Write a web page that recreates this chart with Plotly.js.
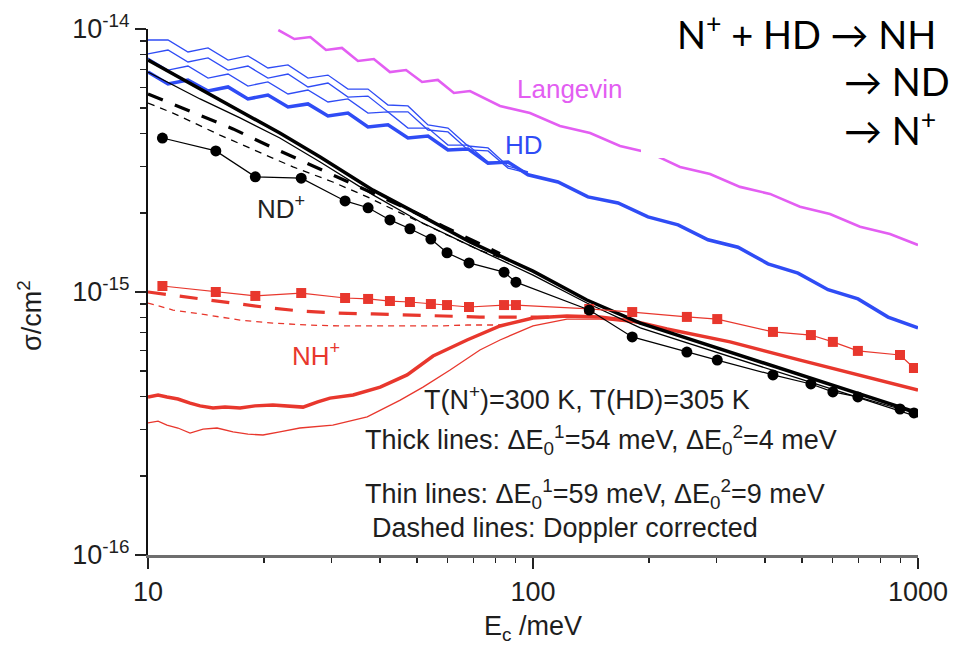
<!DOCTYPE html>
<html>
<head>
<meta charset="utf-8">
<script src="https://cdn.plot.ly/plotly-3.0.1.min.js"></script>
<style>html,body{margin:0;padding:0;background:#fff;}#chart{width:955px;height:645px;}</style>
</head>
<body>
<div id="chart"></div>
<script>
// ---------- data (collision energy in meV, cross section in cm^2) ----------
const langevinE = [21.8, 24.0, 26.4, 29.0, 31.9, 35.1, 38.6, 42.5, 46.8, 51.5, 56.6, 62.3, 68.6, 82.1, 98.2, 117.5, 140.7, 168.3, 201.4, 240.9, 288.3, 344.9, 412.7, 493.7, 590.7, 707.1, 845.8, 1000];
const langevinSigma = [9.91e-15, 9.16e-15, 9.32e-15, 8.32e-15, 8.47e-15, 7.56e-15, 7.69e-15, 6.86e-15, 6.98e-15, 6.29e-15, 6.40e-15, 5.71e-15, 5.81e-15, 5.10e-15, 4.79e-15, 4.28e-15, 4.02e-15, 3.59e-15, 3.38e-15, 2.99e-15, 2.81e-15, 2.51e-15, 2.36e-15, 2.11e-15, 1.98e-15, 1.77e-15, 1.66e-15, 1.51e-15];

const hdMainE = [10, 11.27, 12.70, 14.32, 16.14, 18.18, 20.49, 23.10, 26.03, 29.34, 33.07, 37.27, 42.01, 47.34, 53.37, 60.14, 67.79, 76.41, 86.12, 97.05, 116.1, 138.9, 166.3, 198.9, 238.1, 284.8, 340.8, 407.8, 487.9, 583.9, 698.6, 835.9, 1000];
const hdMainSigma = [6.86e-15, 6.18e-15, 6.40e-15, 5.81e-15, 6.02e-15, 5.42e-15, 5.61e-15, 5.05e-15, 5.19e-15, 4.67e-15, 4.79e-15, 4.24e-15, 4.32e-15, 3.85e-15, 3.92e-15, 3.47e-15, 3.50e-15, 3.09e-15, 3.12e-15, 2.79e-15, 2.62e-15, 2.30e-15, 2.18e-15, 1.93e-15, 1.80e-15, 1.58e-15, 1.48e-15, 1.28e-15, 1.18e-15, 1.02e-15, 9.41e-16, 8.03e-16, 7.30e-16];
const hdBundleE = [10, 11.27, 12.70, 14.32, 16.14, 18.18, 20.49, 23.10, 26.03, 29.34, 33.07, 37.27, 42.01, 47.34, 53.37, 60.14, 67.79, 76.41, 86.12, 97.05];
const hdThinA = [9.08e-15, 9.08e-15, 8.18e-15, 8.47e-15, 7.62e-15, 7.90e-15, 7.11e-15, 7.30e-15, 6.51e-15, 6.68e-15, 5.91e-15, 5.91e-15, 5.14e-15, 5.10e-15, 4.32e-15, 4.20e-15, 3.59e-15, 3.53e-15, 3.01e-15, 2.86e-15];
const hdThinB = [8.04e-15, 8.32e-15, 7.49e-15, 7.76e-15, 6.98e-15, 7.23e-15, 6.51e-15, 6.74e-15, 6.02e-15, 6.23e-15, 5.51e-15, 5.56e-15, 4.84e-15, 4.84e-15, 4.13e-15, 4.06e-15, 3.47e-15, 3.44e-15, 2.96e-15, 2.83e-15];
const hdThinC = [7.76e-15, 6.98e-15, 7.23e-15, 6.51e-15, 6.74e-15, 6.07e-15, 6.29e-15, 5.66e-15, 5.86e-15, 5.28e-15, 5.42e-15, 4.79e-15, 4.84e-15, 4.20e-15, 4.20e-15, 3.62e-15, 3.62e-15, 3.12e-15, 3.12e-15, 2.81e-15];

const ndSimE = [10, 13.65, 17.34, 22.0, 28.0, 38.4, 50.9, 68.6, 100, 138, 190, 325, 494, 666, 1000];
const ndThickSigma = [7.62e-15, 5.91e-15, 4.88e-15, 4.02e-15, 3.26e-15, 2.44e-15, 1.96e-15, 1.55e-15, 1.20e-15, 9.32e-16, 7.62e-16, 5.91e-16, 4.84e-16, 4.20e-16, 3.47e-16];
const ndThinSigma = [6.86e-15, 5.42e-15, 4.59e-15, 3.85e-15, 3.12e-15, 2.34e-15, 1.85e-15, 1.50e-15, 1.16e-15, 9.08e-16, 7.30e-16, 5.66e-16, 4.67e-16, 4.06e-16, 3.35e-16];
const ndThickDopE = [10, 12.63, 16.63, 20.38, 24.8, 30.97, 37.7, 47.9, 58.4, 72.8, 82.1];
const ndThickDopSigma = [5.66e-15, 4.92e-15, 4.17e-15, 3.62e-15, 3.18e-15, 2.74e-15, 2.40e-15, 2.05e-15, 1.78e-15, 1.52e-15, 1.40e-15];
const ndThinDopE = [10, 11.61, 15.38, 19.54, 23.8, 30.2, 37.1, 45.2, 58.4, 72.8, 92.5];
const ndThinDopSigma = [5.23e-15, 4.79e-15, 3.95e-15, 3.38e-15, 2.99e-15, 2.62e-15, 2.30e-15, 2.00e-15, 1.68e-15, 1.44e-15, 1.27e-15];

const nhThickE = [10, 10.62, 11.20, 11.96, 12.86, 13.65, 14.75, 15.85, 17.34, 18.96, 21.1, 23.1, 25.27, 27.6, 29.7, 34.1, 40.1, 47.1, 55.0, 67.4, 82.1, 100, 122.5, 149, 181.8, 222.9, 272, 325, 494, 707, 1000];
const nhThickSigma = [3.99e-16, 4.06e-16, 3.99e-16, 3.92e-16, 3.78e-16, 3.69e-16, 3.62e-16, 3.65e-16, 3.62e-16, 3.69e-16, 3.72e-16, 3.69e-16, 3.65e-16, 3.82e-16, 3.95e-16, 4.06e-16, 4.35e-16, 4.84e-16, 5.71e-16, 6.57e-16, 7.43e-16, 7.96e-16, 8.10e-16, 8.03e-16, 7.76e-16, 7.23e-16, 6.80e-16, 6.46e-16, 5.51e-16, 4.84e-16, 4.24e-16];
const nhThinE = [10, 10.62, 11.20, 11.96, 12.86, 13.9, 15.11, 16.63, 18.18, 19.89, 22.0, 24.8, 30.2, 37.1, 45.2, 51.8, 60.9, 72.8, 82.1, 100, 122.5, 149, 189.7];
const nhThinSigma = [3.18e-16, 3.23e-16, 3.12e-16, 3.04e-16, 2.91e-16, 3.01e-16, 3.04e-16, 2.94e-16, 2.88e-16, 2.86e-16, 2.94e-16, 3.04e-16, 3.12e-16, 3.35e-16, 3.88e-16, 4.35e-16, 5.05e-16, 6.02e-16, 6.57e-16, 7.43e-16, 7.89e-16, 7.89e-16, 7.62e-16];
const nhThickDopE = [10, 13.09, 16.33, 20.7, 24.8, 30.97, 38.4, 47.9, 58.4, 72.8, 92.5, 117.5];
const nhThickDopSigma = [1.0e-15, 9.49e-16, 9.08e-16, 8.70e-16, 8.47e-16, 8.32e-16, 8.25e-16, 8.18e-16, 8.10e-16, 8.03e-16, 8.03e-16, 8.03e-16];
const nhThinDopE = [10, 11.61, 14.23, 17.34, 21.1, 25.9, 31.5, 38.4, 47.1, 57.3, 67.4, 82.1];
const nhThinDopSigma = [9.08e-16, 8.54e-16, 8.18e-16, 7.82e-16, 7.62e-16, 7.49e-16, 7.43e-16, 7.43e-16, 7.43e-16, 7.43e-16, 7.49e-16, 7.49e-16];

const expE = [10.9, 15.0, 19.0, 25.0, 32.5, 37.3, 42.5, 47.9, 54.3, 59.8, 68.2, 84.1, 90.3, 140, 181, 251, 301, 420, 527, 601, 698, 898, 976];
const expND = [3.85e-15, 3.44e-15, 2.74e-15, 2.71e-15, 2.22e-15, 2.09e-15, 1.88e-15, 1.74e-15, 1.59e-15, 1.41e-15, 1.29e-15, 1.19e-15, 1.09e-15, 8.54e-16, 6.75e-16, 5.91e-16, 5.51e-16, 4.84e-16, 4.47e-16, 4.17e-16, 3.99e-16, 3.59e-16, 3.47e-16];
const expNH = [1.054e-15, 1.0e-15, 9.66e-16, 9.91e-16, 9.49e-16, 9.41e-16, 9.24e-16, 9.16e-16, 9.0e-16, 8.92e-16, 8.77e-16, 8.92e-16, 8.92e-16, 8.62e-16, 8.39e-16, 8.04e-16, 7.89e-16, 7.05e-16, 6.86e-16, 6.46e-16, 5.97e-16, 5.76e-16, 5.14e-16];

const xTickVals = [10, 100, 1000];
const xTickText = ['10', '100', '1000'];
const xMinorVals = [20, 30, 40, 50, 60, 70, 80, 90, 200, 300, 400, 500, 600, 700, 800, 900];
const yTickVals = [1e-16, 1e-15, 1e-14];
const yTickText = ['10<sup>-16</sup>', '10<sup>-15</sup>', '10<sup>-14</sup>'];
const yMinorVals = [2e-16, 3e-16, 4e-16, 5e-16, 6e-16, 7e-16, 8e-16, 9e-16, 2e-15, 3e-15, 4e-15, 5e-15, 6e-15, 7e-15, 8e-15, 9e-15];

// ---------- styling ----------
const MAG = '#e35ef2', BLUE = '#2f4cf5', RED = '#e8372d', BLK = '#000000';
const L = 148, R = 918, T = 29, B = 555;
const px2x = p => (p - L) / (R - L);
const px2y = p => (B - p) / (B - T);

function line(x, y, color, width, dash, name) {
  return {x: x, y: y, type: 'scatter', mode: 'lines', name: name, hoverinfo: 'skip',
          line: {color: color, width: width, dash: dash || 'solid'}};
}

const traces = [
  line(hdBundleE, hdThinA, BLUE, 1.3, null, 'HD a'),
  line(hdBundleE, hdThinB, BLUE, 1.3, null, 'HD b'),
  line(hdBundleE, hdThinC, BLUE, 1.3, null, 'HD c'),
  line(hdMainE, hdMainSigma, BLUE, 3.5, null, 'HD'),
  line(langevinE, langevinSigma, MAG, 2.6, null, 'Langevin'),
  line(nhThinDopE, nhThinDopSigma, RED, 1.3, '6px,5px', 'NH+ thin Doppler'),
  line(nhThickDopE, nhThickDopSigma, RED, 3.2, '18px,14px', 'NH+ thick Doppler'),
  line(nhThinE, nhThinSigma, RED, 1.3, null, 'NH+ thin'),
  line(nhThickE, nhThickSigma, RED, 3.5, null, 'NH+ thick'),
  line(ndThinDopE, ndThinDopSigma, BLK, 1.3, '7px,6px', 'ND+ thin Doppler'),
  line(ndThickDopE, ndThickDopSigma, BLK, 3.2, '16px,13px', 'ND+ thick Doppler'),
  line(ndSimE, ndThinSigma, BLK, 1.3, null, 'ND+ thin'),
  line(ndSimE, ndThickSigma, BLK, 3.5, null, 'ND+ thick'),
  {x: expE, y: expNH, type: 'scatter', mode: 'lines+markers', name: 'NH+ exp', hoverinfo: 'skip',
   line: {color: RED, width: 1.2}, marker: {symbol: 'square', size: 10, color: RED}},
  {x: expE, y: expND, type: 'scatter', mode: 'lines+markers', name: 'ND+ exp', hoverinfo: 'skip',
   line: {color: BLK, width: 1.2}, marker: {symbol: 'circle', size: 11, color: BLK}}
];

const txt = '#1e1e1e';
const FONT = 'Liberation Sans, Arial, sans-serif';
function ann(text, px, py, size, color, anchor, extra) {
  return Object.assign({text: text, xref: 'paper', yref: 'paper', x: px2x(px), y: px2y(py),
    xanchor: anchor || 'center', yanchor: 'middle', showarrow: false,
    font: {family: FONT, size: size, color: color}}, extra || {});
}

const TR = 'Lato, "Noto Sans", sans-serif';
const trFont = {family: TR, size: 38, color: '#000'};
const annotations = [
  ann('Langevin', 570, 89, 26, MAG),
  ann('HD', 524, 145, 26, BLUE),
  ann('ND<sup>+</sup>', 281, 207, 26, '#222'),
  ann('NH<sup>+</sup>', 316, 354, 26, RED),
  ann('T(N<sup>+</sup>)=300 K, T(HD)=305 K', 422, 398, 27, txt, 'left'),
  ann('Thick lines: ΔE<sub>0</sub><sup>1</sup>=54 meV, ΔE<sub>0</sub><sup>2</sup>=4 meV', 363, 440, 27, txt, 'left'),
  ann('Thin lines: ΔE<sub>0</sub><sup>1</sup>=59 meV, ΔE<sub>0</sub><sup>2</sup>=9 meV', 363, 494, 27, txt, 'left'),
  ann('Dashed lines: Doppler corrected', 370, 528, 27, txt, 'left'),
  ann('σ/cm<sup>2</sup>', 30, 316, 27, txt, 'center', {textangle: -90}),
  ann('N<sup>+</sup> + HD → NH', 676, 32, 38, '#000', 'left', {font: trFont, borderpad: 0}),
  ann('→ ND<br>→ N<sup>+</sup>', 843, 106, 38, '#000', 'left', {font: trFont, align: 'left', borderpad: 0})
];

const layout = {
  width: 955, height: 645,
  margin: {l: L, r: 955 - R, t: T, b: 645 - B, pad: 0},
  paper_bgcolor: '#ffffff', plot_bgcolor: '#ffffff',
  showlegend: false,
  font: {family: FONT, color: txt},
  xaxis: {
    type: 'log', range: [1, 3], autorange: false,
    tickmode: 'array', tickvals: xTickVals, ticktext: xTickText,
    ticks: 'outside', ticklen: 11, tickwidth: 1.5, tickcolor: '#222',
    tickfont: {family: FONT, size: 27, color: txt},
    showline: true, linecolor: '#6e6e6e', linewidth: 3, mirror: false,
    showgrid: false, zeroline: false,
    minor: {tickmode: 'array', tickvals: xMinorVals, ticks: 'outside', ticklen: 5, tickwidth: 1.5, tickcolor: '#222', showgrid: false},
    title: {text: 'E<sub>c</sub> /meV', font: {family: FONT, size: 27, color: txt}, standoff: 14}
  },
  yaxis: {
    type: 'log', range: [-16, -14], autorange: false,
    tickmode: 'array', tickvals: yTickVals, ticktext: yTickText,
    ticks: 'outside', ticklen: 11, tickwidth: 1.5, tickcolor: '#222',
    tickfont: {family: FONT, size: 27, color: txt},
    showline: true, linecolor: '#111', linewidth: 2, mirror: false,
    showgrid: false, zeroline: false,
    minor: {tickmode: 'array', tickvals: yMinorVals, ticks: 'outside', ticklen: 6, tickwidth: 1.5, tickcolor: '#222', showgrid: false}
  },
  shapes: [
    {type: 'rect', xref: 'paper', yref: 'paper', x0: px2x(641), x1: px2x(960), y0: px2y(158), y1: px2y(-5),
     fillcolor: '#ffffff', line: {width: 0}, layer: 'above'}
  ],
  annotations: annotations
};

Plotly.newPlot('chart', traces, layout, {staticPlot: true, displayModeBar: false});
</script>
</body>
</html>
